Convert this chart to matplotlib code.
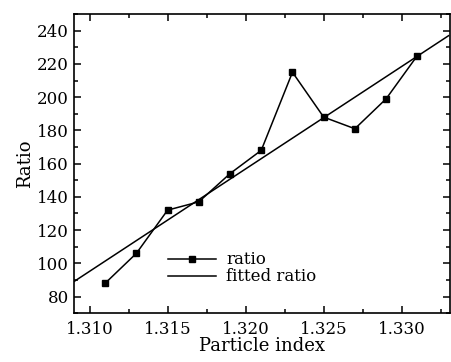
import numpy as np
import matplotlib.pyplot as plt
from matplotlib.ticker import MultipleLocator, FormatStrFormatter

# measured ratio per particle index
index = [1.311, 1.313, 1.315, 1.317, 1.319, 1.321, 1.323, 1.325, 1.327, 1.329, 1.331]
ratio = [88, 106, 132, 137, 154, 168, 215, 188, 181, 199, 225]

# fitted line end points
fit_x = [1.309, 1.333]
fit_y = [89, 237]

plt.rcParams['font.family'] = ['DejaVu Serif']
plt.rcParams['mathtext.fontset'] = 'dejavuserif'

fig = plt.figure(figsize=(4.51, 3.62), dpi=100)
ax = fig.add_axes([0.164, 0.135, 0.834, 0.826])

ax.plot(index, ratio, color='black', lw=1.1, marker='s', ms=5, label='ratio')
ax.plot(fit_x, fit_y, color='black', lw=1.1, label='fitted ratio')

ax.set_xlim(1.309, 1.3331)
ax.set_ylim(70, 250)
ax.xaxis.set_major_locator(MultipleLocator(0.005))
ax.xaxis.set_minor_locator(MultipleLocator(0.0025))
ax.xaxis.set_major_formatter(FormatStrFormatter('%.3f'))
ax.yaxis.set_major_locator(MultipleLocator(20))
ax.yaxis.set_minor_locator(MultipleLocator(10))
ax.tick_params(which='both', direction='in', top=True, right=True, labelsize=12, width=1.1)
ax.tick_params(which='major', length=5)
ax.tick_params(axis='x', pad=6)
ax.tick_params(which='minor', length=3)
for s in ax.spines.values():
    s.set_linewidth(1.2)

ax.set_xlabel('Particle index', fontsize=13, labelpad=-1)
ax.set_ylabel('Ratio', fontsize=13, labelpad=2)

ax.legend(loc='lower left', bbox_to_anchor=(0.228, 0.065), frameon=False, fontsize=12,
          handlelength=2.9, labelspacing=0.0, handletextpad=0.6, borderpad=0)

fig.savefig('out.png', dpi=100)
